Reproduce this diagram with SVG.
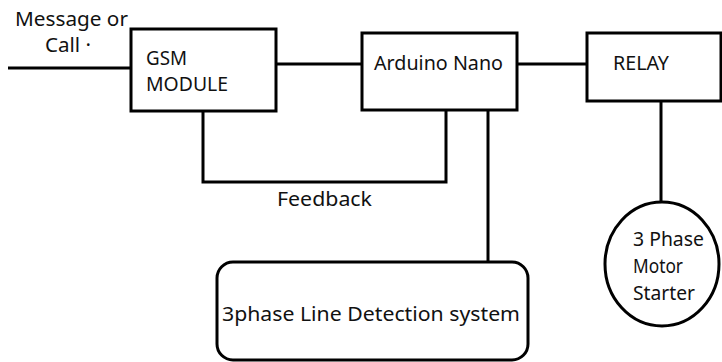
<svg xmlns="http://www.w3.org/2000/svg" width="722" height="362" viewBox="0 0 722 362">
<style>
.box{fill:#fff;stroke:#000;stroke-width:3}
.ln{fill:none;stroke:#000;stroke-width:3}
text{font-family:"Noto Sans","Open Sans",sans-serif;font-size:20px;fill:#111}
</style>
<rect width="722" height="362" fill="#fff"/>
<g id="connectors">
<line class="ln" x1="8" y1="68" x2="131" y2="68"/>
<line class="ln" x1="276" y1="64" x2="362" y2="64"/>
<line class="ln" x1="517" y1="64" x2="587" y2="64"/>
<line class="ln" x1="661" y1="101" x2="661" y2="201"/>
<polyline class="ln" points="203,111 203,182 446,182 446,110"/>
<line class="ln" x1="488" y1="110" x2="488" y2="262"/>
<text x="277" y="206" textLength="95" lengthAdjust="spacingAndGlyphs">Feedback</text>
<text x="15" y="26" textLength="113" lengthAdjust="spacingAndGlyphs">Message or</text>
<text x="45" y="52" textLength="46" lengthAdjust="spacingAndGlyphs">Call ·</text>
</g>
<g id="gsm">
<rect class="box" x="131" y="29" width="145" height="82"/>
<text x="146" y="65" textLength="41" lengthAdjust="spacingAndGlyphs">GSM</text>
<text x="146" y="91" textLength="82" lengthAdjust="spacingAndGlyphs">MODULE</text>
</g>
<g id="arduino">
<rect class="box" x="362" y="33" width="155" height="77"/>
<text x="374" y="70" textLength="129" lengthAdjust="spacingAndGlyphs">Arduino Nano</text>
</g>
<g id="relay">
<rect class="box" x="587" y="33" width="134" height="68"/>
<text x="613" y="70" textLength="56" lengthAdjust="spacingAndGlyphs">RELAY</text>
</g>
<g id="motor">
<ellipse class="box" cx="662" cy="264" rx="57" ry="62"/>
<text x="633" y="246" textLength="71" lengthAdjust="spacingAndGlyphs">3 Phase</text>
<text x="633" y="273" textLength="50" lengthAdjust="spacingAndGlyphs">Motor</text>
<text x="633" y="300" textLength="62" lengthAdjust="spacingAndGlyphs">Starter</text>
</g>
<g id="detection">
<rect class="box" x="217" y="262" width="311" height="98" rx="16"/>
<text x="222" y="321" textLength="298" lengthAdjust="spacingAndGlyphs">3phase Line Detection system</text>
</g>
</svg>
